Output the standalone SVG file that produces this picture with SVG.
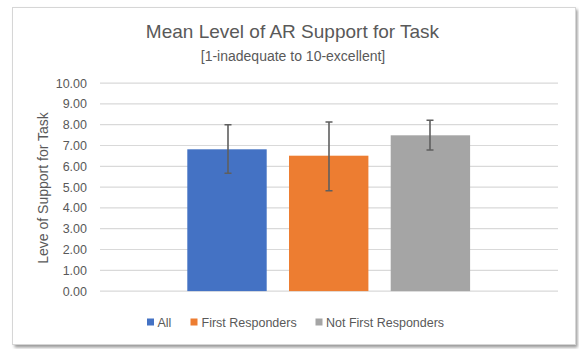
<svg xmlns="http://www.w3.org/2000/svg" width="579" height="349" viewBox="0 0 579 349">
<defs>
<filter id="sh" x="-5%" y="-5%" width="110%" height="110%"><feGaussianBlur stdDeviation="1.5"/></filter>
</defs>
<style>
text{font-family:"Liberation Sans",Arial,sans-serif;fill:#595959}
.ax{font-size:12.5px;text-anchor:end}
.lg{font-size:12.5px}
.grid line{stroke:#d9d9d9;stroke-width:1.2}
.err{stroke:#5f5f5f;stroke-width:1.6;fill:none}
</style>
<rect width="579" height="349" fill="#fff"/>
<rect x="14.5" y="9.5" width="563" height="338" fill="#9a9a9a" filter="url(#sh)"/>
<rect id="frame" x="12.5" y="7.5" width="563" height="337" fill="#fff" stroke="#d6d6d6" stroke-width="1"/>
<g id="title">
<text x="292.5" y="38" font-size="19" text-anchor="middle">Mean Level of AR Support for Task</text>
<text x="293" y="61" font-size="14" text-anchor="middle">[1-inadequate to 10-excellent]</text>
</g>
<g class="grid">
<line x1="100" y1="83.1" x2="558" y2="83.1"/>
<line x1="100" y1="103.9" x2="558" y2="103.9"/>
<line x1="100" y1="124.7" x2="558" y2="124.7"/>
<line x1="100" y1="145.5" x2="558" y2="145.5"/>
<line x1="100" y1="166.3" x2="558" y2="166.3"/>
<line x1="100" y1="187.1" x2="558" y2="187.1"/>
<line x1="100" y1="207.9" x2="558" y2="207.9"/>
<line x1="100" y1="228.7" x2="558" y2="228.7"/>
<line x1="100" y1="249.5" x2="558" y2="249.5"/>
<line x1="100" y1="270.3" x2="558" y2="270.3"/>
<line x1="100" y1="291.1" x2="558" y2="291.1"/>
</g>
<g id="yaxis">
<text class="ax" x="87" y="87.5">10.00</text>
<text class="ax" x="87" y="108.3">9.00</text>
<text class="ax" x="87" y="129.1">8.00</text>
<text class="ax" x="87" y="149.9">7.00</text>
<text class="ax" x="87" y="170.7">6.00</text>
<text class="ax" x="87" y="191.5">5.00</text>
<text class="ax" x="87" y="212.3">4.00</text>
<text class="ax" x="87" y="233.1">3.00</text>
<text class="ax" x="87" y="253.9">2.00</text>
<text class="ax" x="87" y="274.7">1.00</text>
<text class="ax" x="87" y="295.5">0.00</text>
<text x="0" y="0" font-size="14" text-anchor="middle" transform="translate(47.5,188) rotate(-90)">Leve of Support for Task</text>
</g>
<g id="bar-all">
<rect x="187.3" y="149.3" width="79.4" height="141.8" fill="#4472c4"/>
</g>
<g id="bar-first">
<rect x="289" y="155.7" width="79.4" height="135.4" fill="#ed7d31"/>
</g>
<g id="bar-notfirst">
<rect x="390.7" y="135.3" width="79.4" height="155.8" fill="#a5a5a5"/>
</g>
<g id="errorbars">
<path class="err" d="M228 124.7V173.3M224.5 124.7H231.5M224.5 173.3H231.5"/>
<path class="err" d="M329 122V190.7M325.5 122H332.5M325.5 190.7H332.5"/>
<path class="err" d="M430 120.3V150M426.5 120.3H433.5M426.5 150H433.5"/>
</g>
<g id="legend">
<rect x="147" y="318.5" width="7" height="7" fill="#4472c4"/>
<text class="lg" x="157.5" y="326.5">All</text>
<rect x="190.5" y="318.5" width="7" height="7" fill="#ed7d31"/>
<text class="lg" x="201.5" y="326.5">First Responders</text>
<rect x="315.5" y="318.5" width="7" height="7" fill="#a5a5a5"/>
<text class="lg" x="326" y="326.5">Not First Responders</text>
</g>
</svg>
